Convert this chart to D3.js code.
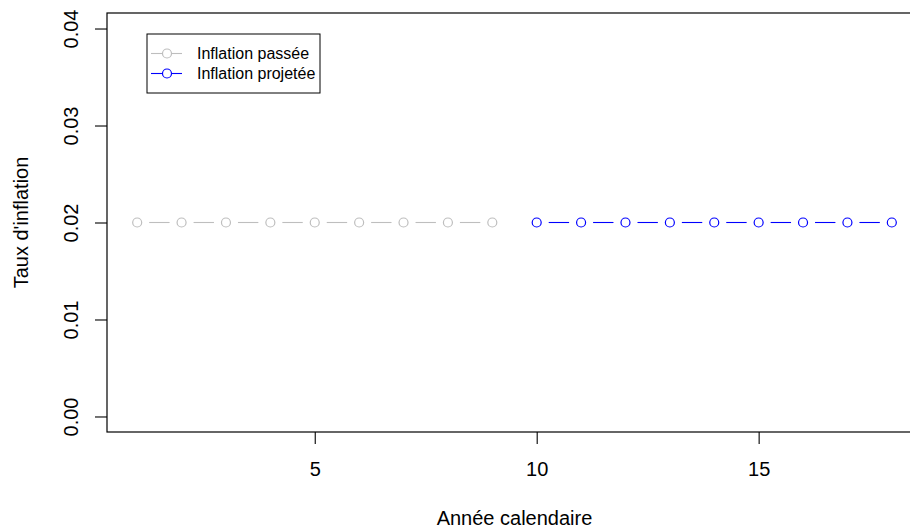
<!DOCTYPE html>
<html>
<head>
<meta charset="utf-8">
<script src="https://cdn.jsdelivr.net/npm/d3@7"></script>
<style>
  body { margin: 0; background: #fff; }
  svg { display: block; font-family: "Liberation Sans", Arial, sans-serif; }
</style>
</head>
<body>
<script>
// data
var pastYears = [1, 2, 3, 4, 5, 6, 7, 8, 9];
var pastRates = [0.02, 0.02, 0.02, 0.02, 0.02, 0.02, 0.02, 0.02, 0.02];
var projYears = [10, 11, 12, 13, 14, 15, 16, 17, 18];
var projRates = [0.02, 0.02, 0.02, 0.02, 0.02, 0.02, 0.02, 0.02, 0.02];
var xTicks = [5, 10, 15];
var yTicks = [0.00, 0.01, 0.02, 0.03, 0.04];
var legendLabels = ["Inflation passée", "Inflation projetée"];
var colors = ["#bebebe", "#0000ff"];

var svgWidth = 910, svgHeight = 528;
var axisFont = 20, legendFont = 16;
// plot region (R style, right edge falls outside the window)
var margin = { top: 13, left: 107 };
var plotWidth = 815, plotHeight = 419;

var svg = d3.select("body").append("svg")
  .attr("width", svgWidth)
  .attr("height", svgHeight);

var g = svg.append("g")
  .attr("transform", "translate(" + margin.left + "," + margin.top + ")");

// R pads the range by 4% on each side
var x = d3.scaleLinear().domain([1 - 0.68, 18 + 0.68]).range([0, plotWidth]);
var y = d3.scaleLinear().domain([-0.0016, 0.0416]).range([plotHeight, 0]);

// box
g.append("rect")
  .attr("x", 0).attr("y", 0)
  .attr("width", plotWidth).attr("height", plotHeight)
  .attr("fill", "none").attr("stroke", "#000").attr("stroke-width", 1.2);

// axes
var xAxis = g.append("g")
  .attr("transform", "translate(0," + plotHeight + ")")
  .call(d3.axisBottom(x).tickValues(xTicks).tickSize(12).tickPadding(18).tickSizeOuter(0));
xAxis.select(".domain").remove();

var yAxis = g.append("g")
  .call(d3.axisLeft(y).tickValues(yTicks).tickFormat(d3.format(".2f")).tickSize(12).tickSizeOuter(0));
yAxis.select(".domain").remove();

svg.selectAll(".tick line").attr("stroke", "#000").attr("stroke-width", 1.1);
svg.selectAll(".tick text")
  .attr("font-family", "Liberation Sans, Arial, sans-serif")
  .attr("font-size", axisFont).attr("fill", "#000");

yAxis.selectAll(".tick text")
  .attr("text-anchor", "middle")
  .attr("dy", null)
  .attr("x", 0).attr("y", 0)
  .attr("transform", "translate(-29,0) rotate(-90)");

// axis titles
svg.append("text")
  .attr("x", margin.left + plotWidth / 2)
  .attr("y", 525)
  .attr("text-anchor", "middle")
  .attr("font-size", axisFont)
  .text("Année calendaire");

svg.append("text")
  .attr("transform", "translate(28," + (margin.top + plotHeight / 2) + ") rotate(-90)")
  .attr("text-anchor", "middle")
  .attr("font-size", axisFont)
  .text("Taux d'inflation");

// series drawn R type="b": points with gapped segments
function drawSeries(xs, ys, color) {
  var pts = xs.map(function(d, i) { return [x(d), y(ys[i])]; });
  var gap = 12;
  for (var i = 0; i < pts.length - 1; i++) {
    var dx = pts[i + 1][0] - pts[i][0], dy = pts[i + 1][1] - pts[i][1];
    var len = Math.sqrt(dx * dx + dy * dy);
    if (len <= 2 * gap) continue;
    g.append("line")
      .attr("x1", pts[i][0] + dx / len * gap).attr("y1", pts[i][1] + dy / len * gap)
      .attr("x2", pts[i + 1][0] - dx / len * gap).attr("y2", pts[i + 1][1] - dy / len * gap)
      .attr("stroke", color).attr("stroke-width", 1.1);
  }
  g.selectAll(null).data(pts).enter().append("circle")
    .attr("cx", function(d) { return d[0]; })
    .attr("cy", function(d) { return d[1]; })
    .attr("r", 4.5)
    .attr("fill", "none")
    .attr("stroke", color).attr("stroke-width", 1.2);
}

drawSeries(pastYears, pastRates, colors[0]);
drawSeries(projYears, projRates, colors[1]);

// legend
var legend = svg.append("g").attr("transform", "translate(147,34)");
legend.append("rect")
  .attr("x", 0).attr("y", 0).attr("width", 173).attr("height", 59)
  .attr("fill", "#fff").attr("stroke", "#000").attr("stroke-width", 1);

legendLabels.forEach(function(label, i) {
  var ly = 19.5 + i * 20;
  legend.append("line")
    .attr("x1", 4).attr("x2", 35).attr("y1", ly).attr("y2", ly)
    .attr("stroke", colors[i]).attr("stroke-width", 1.1);
  legend.append("circle")
    .attr("cx", 20).attr("cy", ly).attr("r", 4.5)
    .attr("fill", "#fff").attr("stroke", colors[i]).attr("stroke-width", 1.2);
  legend.append("text")
    .attr("x", 50).attr("y", ly + 5.5)
    .attr("font-size", legendFont)
    .text(label);
});
</script>
</body>
</html>
